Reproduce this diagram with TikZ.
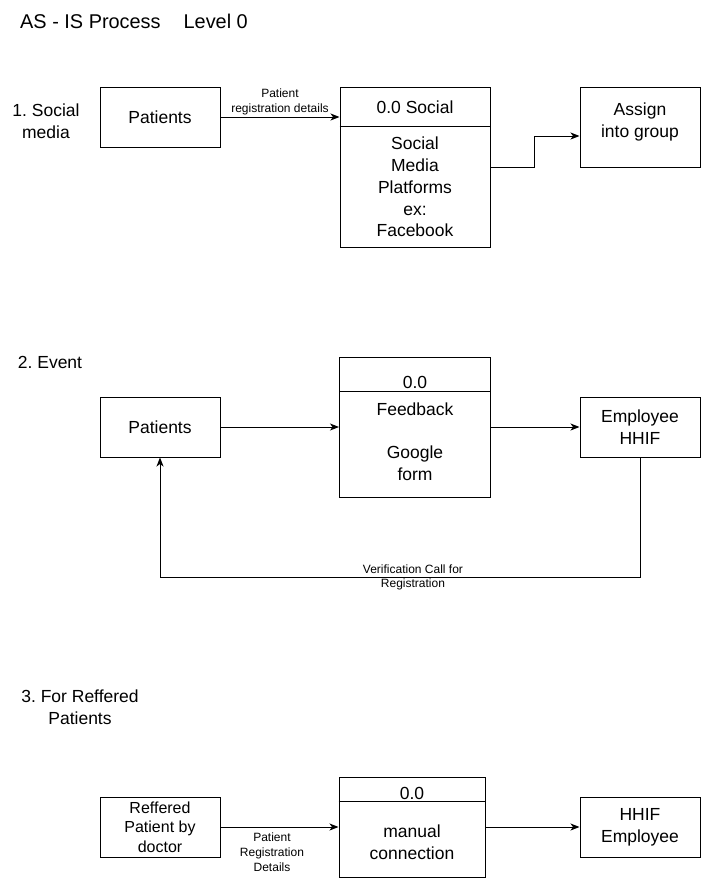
\documentclass[tikz,border=0pt]{standalone}
\usepackage{fontspec}
\setmainfont{Liberation Sans}
\usetikzlibrary{arrows.meta}
\frenchspacing
\begin{document}
\frenchspacing
\begin{tikzpicture}[x=1pt,y=-1pt,
  big/.style={font=\fontsize{17.5}{21.75}\selectfont},
  box/.style={draw, line width=1pt, minimum width=120pt, minimum height=60pt, inner sep=0pt, align=center, big},
  proc/.style={draw, line width=1pt, inner sep=0pt},
  txt/.style={align=center, inner sep=0pt, big},
  small/.style={align=center, inner sep=0pt, font=\fontsize{12}{14.75}\selectfont},
  flow/.style={draw, line width=1pt, -{Stealth[length=9pt,width=7pt,inset=2.5pt]}}
]
\path[use as bounding box, fill=white] (0,0) rectangle (701,878);

% title
\node[txt, font=\fontsize{19.9}{22}\selectfont, anchor=west] (title) at (20,21.5) {AS - IS Process\hspace{23pt}Level 0};

% ---------- Section 1 ----------
\node[txt] (s1) at (46,121) {1. Social\\media};
\node[box] (p1) at (160,117) {Patients};
\node[proc, minimum width=150pt, minimum height=160pt] (proc1) at (415,167) {};
\draw[line width=1pt] ([yshift=-40pt]proc1.north west) -- ([yshift=-40pt]proc1.north east);
\node[txt] (proc1h) at (415,107) {0.0 Social};
\node[txt, anchor=north] (proc1b) at (415,137) {Social\\Media\\Platforms\\ex:\\Facebook};
\node[box, minimum height=80pt] (assign) at (640,127) {};
\node[txt] (assignt) at (640,122) {Assign\\into group};

\draw[flow] (p1.east) -- node[small, above=2pt] (l1) {Patient\\registration details} (proc1.west |- p1.east);
\draw[flow] (proc1.east) -- ++(44,0) |- ([yshift=-9pt]assign.west);

% ---------- Section 2 ----------
\node[txt] (s2) at (50,362) {2. Event};
\node[box] (p2) at (160,427) {Patients};
\node[proc, minimum width=151pt, minimum height=140pt] (proc2) at (415,427) {};
\draw[line width=1pt] ([yshift=-35pt]proc2.north west) -- ([yshift=-35pt]proc2.north east);
\node[txt] (proc2h) at (415,382) {0.0};
\node[txt, anchor=north] (proc2b) at (415,402.5) {Feedback\\[21.75pt]Google\\form};
\node[box] (emp) at (640,427) {Employee\\HHIF};

\draw[flow] (p2.east) -- (proc2.west);
\draw[flow] (proc2.east) -- (emp.west);
\draw[flow] (emp.south) -- ++(0,120) coordinate (c2)
  -- node[small, pos=0.473] (vlab) {Verification Call for\\Registration} (c2 -| p2.south)
  -- (p2.south);

% ---------- Section 3 ----------
\node[txt, font=\fontsize{17.5}{22.5}\selectfont] (s3) at (80,707) {3. For Reffered\\Patients};
\node[box, font=\fontsize{16}{19.5}\selectfont] (ref) at (160,827) {Reffered\\Patient by\\doctor};
\node[proc, minimum width=146pt, minimum height=100pt] (proc3) at (412,827) {};
\draw[line width=1pt] ([yshift=-25pt]proc3.north west) -- ([yshift=-25pt]proc3.north east);
\node[txt] (proc3h) at (412,793) {0.0};
\node[txt] (proc3b) at (412,842) {manual\\connection};
\node[box] (hhif) at (640,827) {HHIF\\Employee};

\draw[flow] (ref.east) -- (proc3.west);
\node[small] (l3) at (272,852) {Patient\\Registration\\Details};
\draw[flow] (proc3.east) -- (hhif.west);
\end{tikzpicture}
\end{document}
